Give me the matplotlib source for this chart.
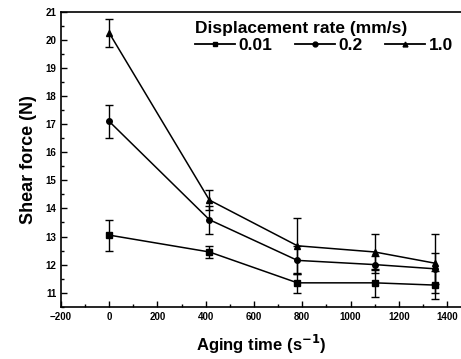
import matplotlib
matplotlib.use("Agg")
import matplotlib.pyplot as plt
from matplotlib.ticker import MultipleLocator
from matplotlib.lines import Line2D

plt.rcParams['font.family'] = ['Liberation Sans', 'DejaVu Sans']
plt.rcParams['font.weight'] = 'bold'
plt.rcParams['mathtext.default'] = 'bf'

aging_time = [0, 415, 780, 1100, 1350]
labels = ["0.01", "0.2", "1.0"]
markers = ["s", "o", "^"]
force_001 = [13.05, 12.45, 11.35, 11.35, 11.27]
err_001 = [0.55, 0.2, 0.35, 0.5, 0.5]
force_02 = [17.1, 13.6, 12.15, 12.0, 11.85]
err_02 = [0.6, 0.5, 0.5, 0.3, 0.55]
force_10 = [20.25, 14.3, 12.67, 12.45, 12.05]
err_10 = [0.5, 0.35, 1.0, 0.65, 1.05]

fig = plt.figure(figsize=(4.61, 3.59), dpi=100)
ax = fig.add_axes([0.1323, 0.1457, 0.8677, 0.8209])

handles = []
for y, e, m, lab in zip([force_001, force_02, force_10], [err_001, err_02, err_10], markers, labels):
    ax.errorbar(aging_time, y, yerr=e, color='black', marker=m, markersize=4,
                linewidth=1.1, elinewidth=1.0, capsize=3, capthick=1.0)
    handles.append(Line2D([], [], color='black', marker=m, markersize=3.5,
                          linewidth=1.3, label=lab))

ax.set_xlim(-200, 1458)
ax.set_ylim(10.5, 21)
ax.xaxis.set_major_locator(MultipleLocator(200))
ax.xaxis.set_minor_locator(MultipleLocator(100))
ax.yaxis.set_major_locator(MultipleLocator(1))
ax.yaxis.set_minor_locator(MultipleLocator(0.5))
ax.tick_params(which='both', direction='in', labelsize=7, width=1.0)
ax.tick_params(which='major', length=4)
ax.tick_params(which='minor', length=2)
for lbl in ax.get_xticklabels() + ax.get_yticklabels():
    lbl.set_fontweight('bold')
ax.spines['right'].set_visible(False)
for s in ['left', 'bottom', 'top']:
    ax.spines[s].set_linewidth(1.2)

ax.set_xlabel("Aging time (s$^{-1}$)", fontsize=12, fontweight='bold', labelpad=8)
ax.set_ylabel("Shear force (N)", fontsize=13, fontweight='bold', labelpad=6)

leg = ax.legend(handles=handles, title="Displacement rate (mm/s)", ncol=3, frameon=False,
                loc='upper left', bbox_to_anchor=(0.305, 1.01),
                fontsize=12.5, title_fontproperties={'weight': 'bold', 'size': 12.5},
                handlelength=2.3, handletextpad=0.2, columnspacing=1.3,
                borderpad=0.2, labelspacing=0.1)
leg._legend_box.align = 'left'
for t in leg.get_texts():
    t.set_fontweight('bold')

fig.savefig("out.png", dpi=100)
